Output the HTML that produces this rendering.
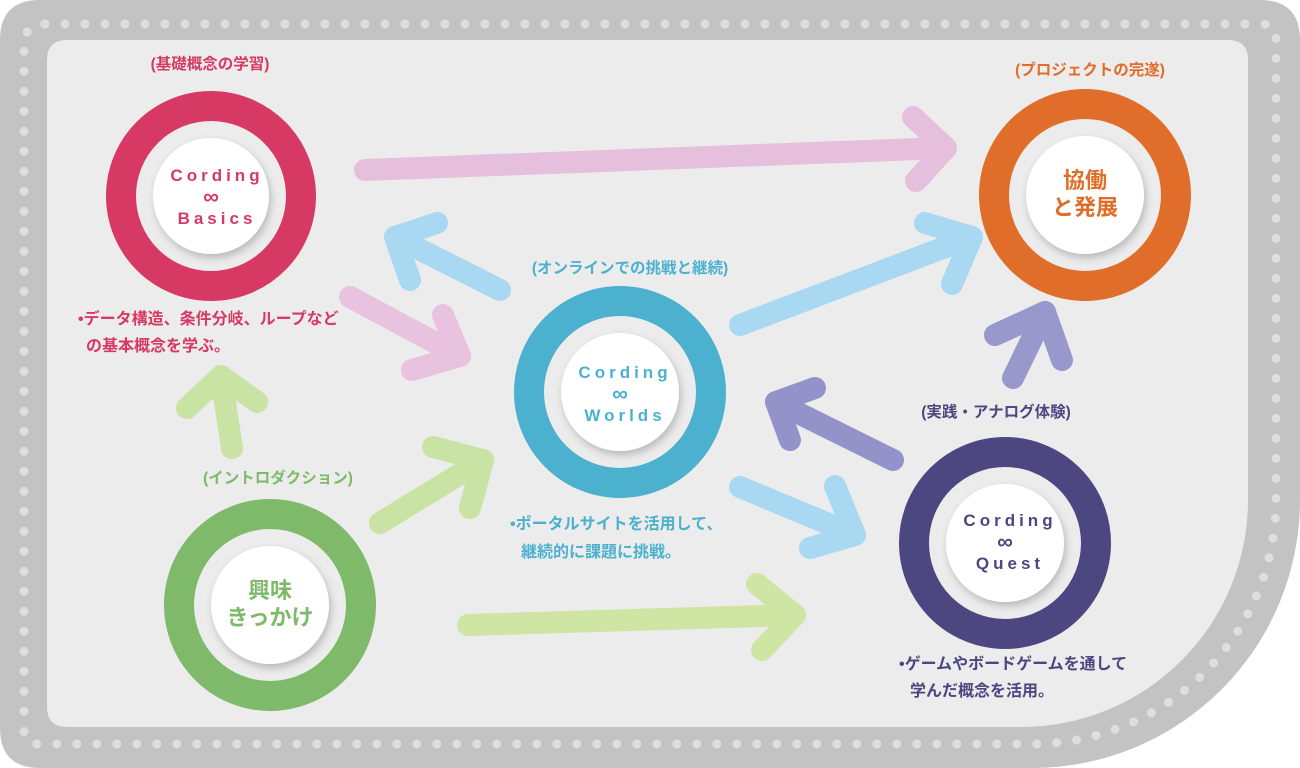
<!DOCTYPE html>
<html><head><meta charset="utf-8"><style>
html,body{margin:0;padding:0;background:#fff;}
body{width:1300px;height:768px;overflow:hidden;position:relative;font-family:"Liberation Sans","Noto Sans CJK JP",sans-serif;}
svg{position:absolute;left:0;top:0;}
.t{font-family:"Liberation Sans","Noto Sans CJK JP",sans-serif;font-weight:bold;}
</style></head><body>
<svg width="1300" height="768" viewBox="0 0 1300 768">
<defs>
<filter id="sh" x="-30%" y="-30%" width="160%" height="160%"><feDropShadow dx="2" dy="4" stdDeviation="4" flood-color="#000" flood-opacity="0.22"/></filter>
</defs>
<path d="M40 0 H1260 Q1300 0 1300 40 V500 A268 268 0 0 1 1032 768 H40 Q0 768 0 728 V40 Q0 0 40 0Z" fill="#c3c3c3"/>
<path d="M45 24 H1262 Q1276 24 1276 38 V500 A244 244 0 0 1 1032 744 H38 Q24 744 24 730 V45 Q24 24 45 24Z" fill="none" stroke="#dedede" stroke-width="9" stroke-linecap="round" stroke-dasharray="0 20"/>
<path d="M67 40 H1228 Q1248 40 1248 60 V500 A227 227 0 0 1 1021 727 H67 Q47 727 47 707 V60 Q47 40 67 40Z" fill="#ececec"/>
<g fill="none" stroke-width="22" stroke-linecap="round" stroke-linejoin="round">
<g stroke="#e6bfdc"><path d="M365 170 L945 148"/><path d="M913 117 L946 148 L916 181"/></g>
<g stroke="#a9d8f2"><path d="M500 290 L395 237"/><path d="M437 223 L395 237 L410 280"/></g>
<g stroke="#e8c2df"><path d="M350 297 L460 356"/><path d="M443 315 L460 356 L412 370"/></g>
<g stroke="#a9d8f2"><path d="M740 325 L972 237"/><path d="M925 223 L972 237 L952 284"/></g>
<g stroke="#9898cc"><path d="M1013 378 L1045 312"/><path d="M995 335 L1045 312 L1062 360"/></g>
<g stroke="#9393c9"><path d="M893 460 L776 402"/><path d="M815 388 L776 402 L790 440"/></g>
<g stroke="#a9d8f2"><path d="M740 487 L855 535"/><path d="M835 486 L855 535 L810 548"/></g>
<g stroke="#c9e3a4"><path d="M380 523 L483 460"/><path d="M433 447 L483 460 L470 508"/></g>
<g stroke="#cfe5a3"><path d="M468 625 L795 615"/><path d="M757 584 L795 615 L762 650"/></g>
<g stroke="#c9e3a4"><path d="M232 448 L221 376"/><path d="M187 408 L221 376 L257 402"/></g>
</g>
<g>
<circle cx="211" cy="196" r="90" fill="none" stroke="#d63a64" stroke-width="30"/>
<circle cx="211" cy="196" r="58" fill="#fff" filter="url(#sh)"/>
<circle cx="620" cy="392" r="91" fill="none" stroke="#4bb1cf" stroke-width="30"/>
<circle cx="620" cy="392" r="59" fill="#fff" filter="url(#sh)"/>
<circle cx="1085" cy="195" r="91" fill="none" stroke="#e06d2a" stroke-width="30"/>
<circle cx="1085" cy="195" r="59" fill="#fff" filter="url(#sh)"/>
<circle cx="1005" cy="543" r="91" fill="none" stroke="#4c4780" stroke-width="30"/>
<circle cx="1005" cy="543" r="59" fill="#fff" filter="url(#sh)"/>
<circle cx="270" cy="605" r="91" fill="none" stroke="#7fb96a" stroke-width="30"/>
<circle cx="270" cy="605" r="59" fill="#fff" filter="url(#sh)"/>
</g>
<g class="t" text-anchor="middle" font-size="17" letter-spacing="4">
<text x="217" y="181" fill="#d63a64">Cording</text><text x="211" y="204" fill="#d63a64" font-size="22" letter-spacing="0">∞</text><text x="217" y="224" fill="#d63a64">Basics</text>
<text x="625" y="378" fill="#4bb1cf">Cording</text><text x="620" y="401" fill="#4bb1cf" font-size="22" letter-spacing="0">∞</text><text x="625" y="421" fill="#4bb1cf">Worlds</text>
<text x="1010" y="526" fill="#4c4780">Cording</text><text x="1005" y="549" fill="#4c4780" font-size="22" letter-spacing="0">∞</text><text x="1010" y="569" fill="#4c4780">Quest</text>
<text x="1085" y="188" fill="#e06d2a" font-size="22" letter-spacing="0">協働</text><text x="1085" y="215" fill="#e06d2a" font-size="22" letter-spacing="0">と発展</text>
<text x="270" y="598" fill="#7fb96a" font-size="22" letter-spacing="0">興味</text><text x="270" y="625" fill="#7fb96a" font-size="22" letter-spacing="0">きっかけ</text>
</g>
<g class="t" font-size="15.5">
<text x="210" y="69" text-anchor="middle" fill="#d63a64">(基礎概念の学習)</text>
<text x="1090" y="75" text-anchor="middle" fill="#e06d2a">(プロジェクトの完遂)</text>
<text x="630" y="273" text-anchor="middle" fill="#4bb1cf">(オンラインでの挑戦と継続)</text>
<text x="996" y="417" text-anchor="middle" fill="#4c4780">(実践・アナログ体験)</text>
<text x="278" y="483" text-anchor="middle" fill="#7fb96a">(イントロダクション)</text>
<text x="78" y="324" fill="#d63a64" font-size="16">•データ構造、条件分岐、ループなど</text>
<text x="86" y="351" fill="#d63a64" font-size="16">の基本概念を学ぶ。</text>
<text x="510" y="529" fill="#4bb1cf" font-size="16">•ポータルサイトを活用して、</text>
<text x="521" y="557" fill="#4bb1cf" font-size="16">継続的に課題に挑戦。</text>
<text x="899" y="669" fill="#4c4780" font-size="16">•ゲームやボードゲームを通して</text>
<text x="910" y="696" fill="#4c4780" font-size="16">学んだ概念を活用。</text>
</g>
</svg>
</body></html>
